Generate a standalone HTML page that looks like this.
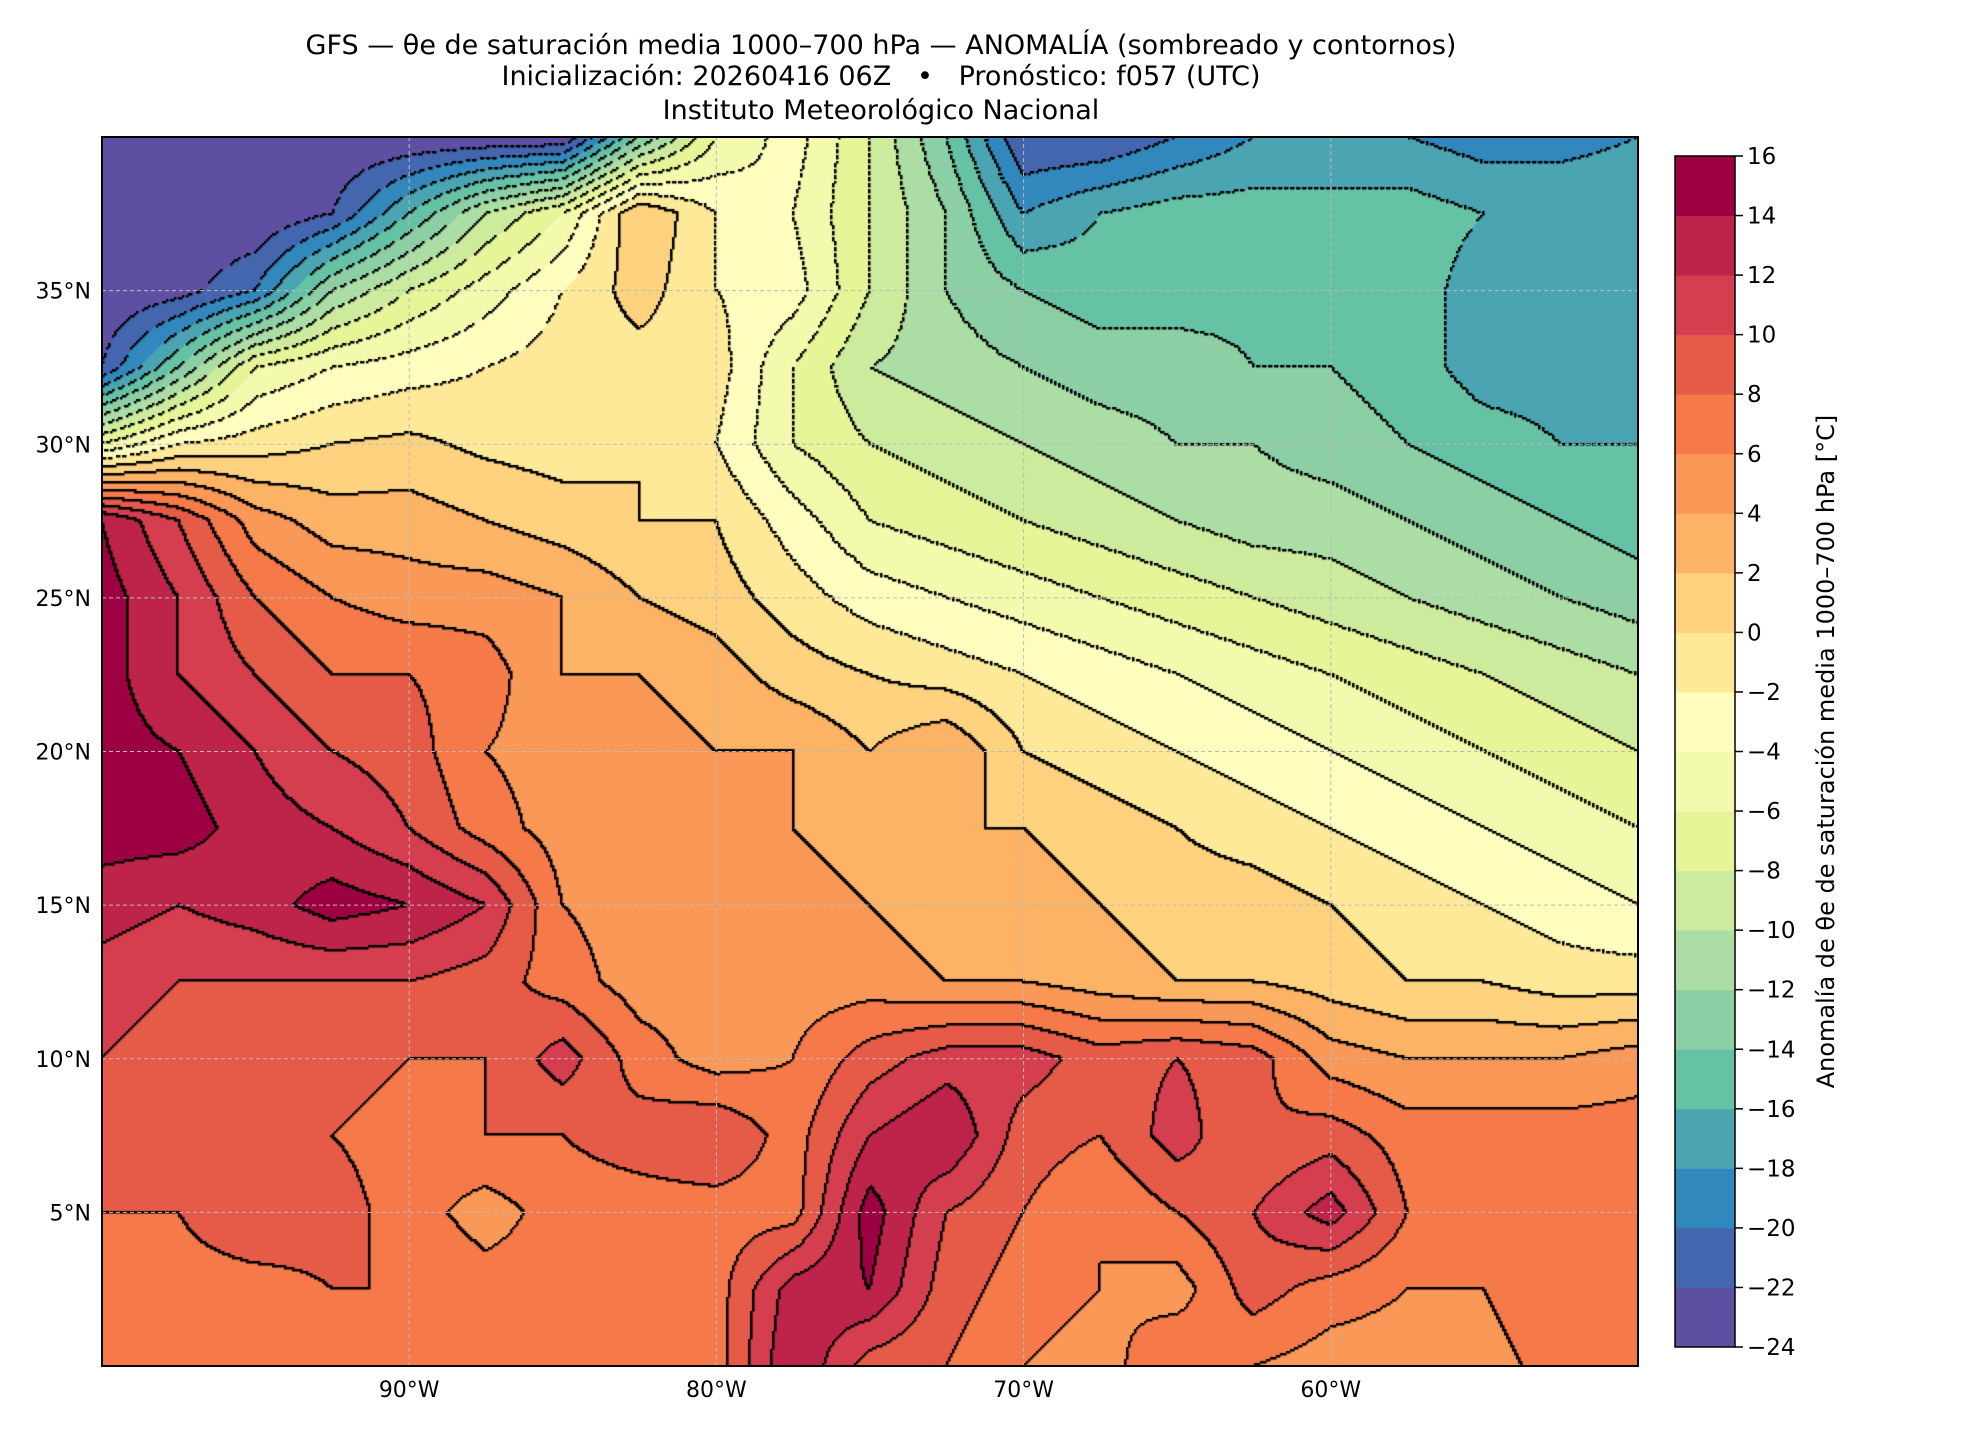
<!DOCTYPE html>
<html><head><meta charset="utf-8">
<style>
body{margin:0;background:#fff;width:1980px;height:1440px;position:relative;overflow:hidden;font-family:"DejaVu Sans","Liberation Sans",sans-serif;}
.t{position:absolute;left:0;width:1762px;text-align:center;font-size:27px;color:#000;}
</style></head><body>
<div class="t" style="top:30px">GFS — θe de saturación media 1000–700 hPa — ANOMALÍA (sombreado y contornos)</div>
<div class="t" style="top:61px">Inicialización: 20260416 06Z &nbsp; • &nbsp; Pronóstico: f057 (UTC)</div>
<div class="t" style="top:95px">Instituto Meteorológico Nacional</div>
<canvas id="map" width="1536" height="1229" style="position:absolute;left:102px;top:137px;"></canvas>
<svg id="ov" width="1980" height="1440" style="position:absolute;left:0;top:0"></svg>
<script>
const lons=[-100,-97.5,-95,-92.5,-90,-87.5,-85,-82.5,-80,-77.5,-75,-72.5,-70,-67.5,-65,-62.5,-60,-57.5,-55,-52.5,-50];
const lats=[40,37.5,35,32.5,30,27.5,25,22.5,20,17.5,15,12.5,10,7.5,5,2.5,0];
const row40=[-24,-24,-24,-24,-24,-24,-24,-14,-6,-3,-8,-14,-22,-22,-20,-18,-18,-18,-19,-19,-18];
const row37=[-24,-24,-24,-22,-16,-10,-6,2,-2,-4,-8,-12,-18,-16,-15,-15,-15,-15,-16,-16,-16];
const row35=[-24,-23,-20,-12,-8,-5,-2,1,-2,-3,-8,-12,-14,-15,-15,-14.5,-15,-15,-17,-17,-17];
const row32=[-22,-14,-6,-4,-3,-2,-1,-1,-1,-6,-10,-11,-12,-13,-13,-14,-14,-15,-17,-17,-17];
const row30=[-6,-2,-1,0,0.5,-0.5,-1,0,-2,-6,-8,-9,-10,-11,-12,-12,-13,-14,-15,-16,-16];
const row27=[14,10,5,3,3,2,1,0,0,-3,-6,-7,-8,-9,-10,-11,-11,-12,-13,-14,-15];
const row25=[15,12,8,6,5,5,4,2,1,-1,-3,-4,-5,-6,-7,-8,-9,-10,-11,-12,-13];
const row22=[15,12,10,8,8,7,4,4,3,1,0,-1,-2,-3,-4,-5,-6,-7,-8,-9,-10];
const row20=[15,14,12,10,9,6,5,5,4,4,2,4,0,-1,-2,-3,-4,-5,-6,-7,-8];
const row17=[15,15,13,12,10,7,5,5,4,4,3,2,2,1,0,-1,-2,-3,-4,-5,-6];
const row15=[13,12,13,15,14,12,6,5,5,5,4,3,3,2,1,1,0,-1,-2,-3,-4];
const row12=[11,10,10,10,10,9,7,5,5,5,5,4,4,3,2,2,1,0,0,-1,-1];
const row10=[10,9,9,9,8,8,11,7,5,6,9,11,11,9,10,9,5,4,4,4,5];
const row7=[9,9,8,8,7,8,8,9,10,7,12,14,9,8,11,8,9,7,7,7,7];
const row5=[8,8,10,9,7,5,7,7,7,7,15,10,8,6,8,10,13,8,7,7,8];
const row2=[7,7,7,8,8,7,7,7,7,13,14,9,7,6,5,9,7,6,6,8,7];
const row0=[7,7,7,6,7,8,7,6,7,14,9,8,6,5,8,6,5,5,5,7,7];
const grid=[row40,row37,row35,row32,row30,row27,row25,row22,row20,row17,row15,row12,row10,row7,row5,row2,row0];
const levels=[-24,-22,-20,-18,-16,-14,-12,-10,-8,-6,-4,-2,0,2,4,6,8,10,12,14,16];
const colors=["#5e4fa2","#4366ae","#3288bd","#4ba4b1","#66c2a5","#8ccfa4","#abdda4","#cdeb9d","#e6f598","#f3faad","#fffebe","#fee999","#fed27f","#fdb365","#fa9857","#f67a49","#e65b48","#d53e4f","#be2449","#9e0142"];
const lonTicks=[-90,-80,-70,-60];
const latTicks=[5,10,15,20,25,30,35];

const X0=102,X1=1638,Y0=137,Y1=1366;
const xs=lon=>X0+(lon+100)/50*(X1-X0);
const ys=lat=>Y0+(40-lat)/40*(Y1-Y0);
function val(lon,lat){
  let fi=(lon-lons[0])/2.5, fj=(lats[0]-lat)/2.5;
  fi=Math.max(0,Math.min(lons.length-1.001,fi)); fj=Math.max(0,Math.min(lats.length-1.001,fj));
  const i=Math.floor(fi),j=Math.floor(fj),a=fi-i,b=fj-j;
  return grid[j][i]*(1-a)*(1-b)+grid[j][i+1]*a*(1-b)+grid[j+1][i]*(1-a)*b+grid[j+1][i+1]*a*b;
}
function lev(v){let k=Math.floor((v-levels[0])/2);return Math.max(0,Math.min(colors.length-1,k));}
const cv=document.getElementById('map'),ctx=cv.getContext('2d');
const W=cv.width,H=cv.height,S=2;
const nx=Math.ceil(W/S),ny=Math.ceil(H/S),L=[];
for(let j=0;j<ny;j++){L.push([]);for(let i=0;i<nx;i++){
  const px=X0+i*S+S/2,py=Y0+j*S+S/2;
  const lon=-100+(px-X0)/(X1-X0)*50,lat=40-(py-Y0)/(Y1-Y0)*40;
  const k=lev(val(lon,lat));L[j].push(k);
  ctx.fillStyle=colors[k];ctx.fillRect(i*S,j*S,S,S);}}
ctx.fillStyle="#000";
for(let j=0;j<ny;j++)for(let i=0;i<nx;i++){
  const k=L[j][i];
  const r=i+1<nx?L[j][i+1]:k,d=j+1<ny?L[j+1][i]:k;
  if(r!==k||d!==k){const lv=levels[Math.max(k,r,d)];
    if(lv<0&&((i+j)%3===0))continue;
    ctx.fillRect(i*S,j*S,2.5,2.5);}}

const ns="http://www.w3.org/2000/svg",ov=document.getElementById('ov');
function el(t,a){const e=document.createElementNS(ns,t);for(const k in a)e.setAttribute(k,a[k]);ov.appendChild(e);return e;}
const FF='DejaVu Sans, Liberation Sans, sans-serif';
lonTicks.forEach(l=>{
  const g=el('line',{x1:xs(l),x2:xs(l),y1:Y0,y2:Y1,stroke:'#bbb','stroke-width':1,'stroke-dasharray':'4,3'});
  
  
  const t=el('text',{x:xs(l),y:Y1+31,'text-anchor':'middle','font-size':22,'font-family':FF});
  t.textContent=Math.abs(l)+'°W';
  
  
});
latTicks.forEach(l=>{
  const g=el('line',{x1:X0,x2:X1,y1:ys(l),y2:ys(l),stroke:'#bbb','stroke-width':1,'stroke-dasharray':'4,3'});
  
  
  const t=el('text',{x:X0-11,y:ys(l)+8,'text-anchor':'end','font-size':22,'font-family':FF});
  t.textContent=l+'°N';
  
  
});
const fr=el('rect',{x:X0,y:Y0,width:X1-X0,height:Y1-Y0,fill:'none',stroke:'#000','stroke-width':2});


const CX=1675,CW=60,CT=156,CB=1347,seg=(CB-CT)/colors.length;
colors.forEach((c,k)=>{
  const r=el('rect',{x:CX,y:CB-(k+1)*seg,width:CW,height:seg+0.5,fill:c});
  
  
});
const cf=el('rect',{x:CX,y:CT,width:CW,height:CB-CT,fill:'none',stroke:'#000','stroke-width':1.5});


levels.forEach((v,k)=>{
  const y=CB-k*seg;
  const l=el('line',{x1:CX+CW,x2:CX+CW+8,y1:y,y2:y,stroke:'#000','stroke-width':1.5});
  
  
  const t=el('text',{x:CX+CW+12,y:y+8,'font-size':23,'font-family':FF});
  t.textContent=(v<0?'−'+Math.abs(v):v);
  
  
});
const cy=(CT+CB)/2;
const cl=el('text',{x:1834,y:cy,'text-anchor':'middle','font-size':24,'font-family':FF,transform:'rotate(-90 1834 '+cy+')'});
cl.textContent='Anomalía de θe de saturación media 1000–700 hPa [°C]';


</script>
</body></html>
